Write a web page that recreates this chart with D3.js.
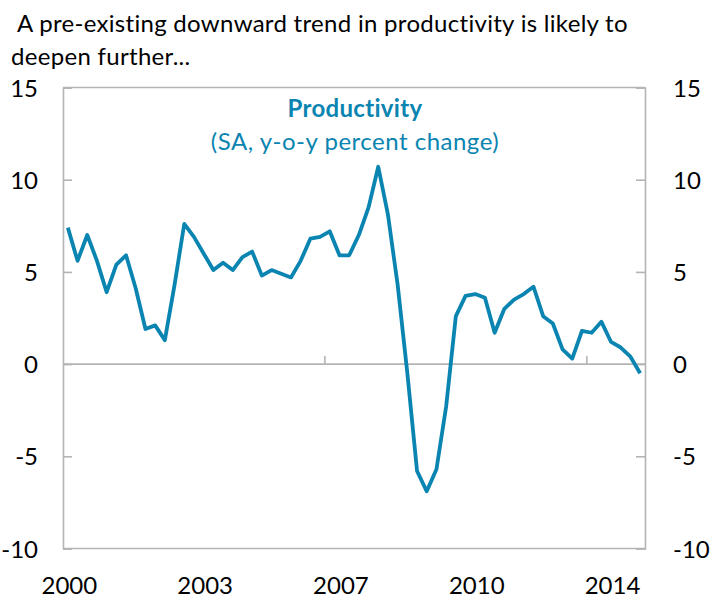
<!DOCTYPE html>
<html>
<head>
<meta charset="utf-8">
<script src="https://cdn.jsdelivr.net/npm/d3@7"></script>
<style>
  body { margin: 0; background: #fff; }
  svg text { font-family: Lato, "Open Sans", sans-serif; }
</style>
</head>
<body>
<svg id="chart" width="726" height="614"></svg>
<script>
// Quarterly categories, 2000Q1 to 2014Q4
const quarters = [
  '2000Q1', '2000Q2', '2000Q3', '2000Q4', '2001Q1', '2001Q2', '2001Q3', '2001Q4',
  '2002Q1', '2002Q2', '2002Q3', '2002Q4', '2003Q1', '2003Q2', '2003Q3', '2003Q4',
  '2004Q1', '2004Q2', '2004Q3', '2004Q4', '2005Q1', '2005Q2', '2005Q3', '2005Q4',
  '2006Q1', '2006Q2', '2006Q3', '2006Q4', '2007Q1', '2007Q2', '2007Q3', '2007Q4',
  '2008Q1', '2008Q2', '2008Q3', '2008Q4', '2009Q1', '2009Q2', '2009Q3', '2009Q4',
  '2010Q1', '2010Q2', '2010Q3', '2010Q4', '2011Q1', '2011Q2', '2011Q3', '2011Q4',
  '2012Q1', '2012Q2', '2012Q3', '2012Q4', '2013Q1', '2013Q2', '2013Q3', '2013Q4',
  '2014Q1', '2014Q2', '2014Q3', '2014Q4',
];

// Productivity, SA, y-o-y percent change
const productivity = [
  7.4, 5.6, 7.0, 5.6, 3.9, 5.4, 5.9, 4.1, 1.9, 2.1, 1.3, 4.3,
  7.6, 6.9, 6.0, 5.1, 5.5, 5.1, 5.8, 6.1, 4.8, 5.1, 4.9, 4.7,
  5.6, 6.8, 6.9, 7.2, 5.9, 5.9, 7.0, 8.5, 10.7, 8.1, 4.3, -0.5,
  -5.8, -6.9, -5.7, -2.3, 2.6, 3.7, 3.8, 3.6, 1.7, 3.0, 3.5, 3.8,
  4.2, 2.6, 2.2, 0.8, 0.3, 1.8, 1.7, 2.3, 1.2, 0.9, 0.4, -0.5,
];

// Axis labels
const xLabelQuarters = ['2000Q1', '2003Q3', '2007Q1', '2010Q3', '2014Q1'];
const xLabelText = ['2000', '2003', '2007', '2010', '2014'];
const xTickAfter = ['2006Q3', '2013Q2'];
const yTicks = [15, 10, 5, 0, -5, -10];

const titleLines = ['A pre-existing downward trend in productivity is likely to', 'deepen further...'];
const seriesTitle = 'Productivity';
const seriesSubtitle = '(SA, y-o-y percent change)';

const blue = '#0a84b0';
const grey = '#b4b4b4';

const plot = { left: 63, right: 645, top: 87.5, bottom: 548.5 };

const svg = d3.select('#chart');

const x = d3.scalePoint()
  .domain(quarters)
  .range([plot.left, plot.right])
  .padding(0.5);

const y = d3.scaleLinear()
  .domain([-10, 15])
  .range([plot.bottom, plot.top]);

// Title, first line indented by a space in the original
svg.append('g')
  .selectAll('text')
  .data(titleLines)
  .join('text')
  .attr('x', (d, i) => (i === 0 ? 17 : 11))
  .attr('y', (d, i) => (i === 0 ? 32 : 65))
  .attr('font-size', 24)
  .attr('letter-spacing', 0.3)
  .attr('fill', '#000')
  .text((d) => d);

// Left and right value axes, ticks pointing inward
const yAxisLeft = d3.axisRight(y).tickValues(yTicks).tickSize(9).tickFormat('');
const yAxisRight = d3.axisLeft(y).tickValues(yTicks).tickSize(9).tickFormat('');

svg.append('g')
  .attr('transform', `translate(${plot.left},0)`)
  .call(yAxisLeft)
  .call((g) => g.selectAll('line, path').attr('stroke', grey).attr('stroke-width', 1.6));

svg.append('g')
  .attr('transform', `translate(${plot.right},0)`)
  .call(yAxisRight)
  .call((g) => g.selectAll('line, path').attr('stroke', grey).attr('stroke-width', 1.6));

// Top and bottom frame
svg.append('line')
  .attr('x1', plot.left).attr('x2', plot.right)
  .attr('y1', y(15)).attr('y2', y(15))
  .attr('stroke', grey).attr('stroke-width', 1.6);
svg.append('line')
  .attr('x1', plot.left).attr('x2', plot.right)
  .attr('y1', y(-10)).attr('y2', y(-10))
  .attr('stroke', grey).attr('stroke-width', 1.6);

// Tick labels on both sides
svg.append('g')
  .selectAll('text')
  .data(yTicks)
  .join('text')
  .attr('x', 38)
  .attr('y', (d) => y(d))
  .attr('dy', '0.38em')
  .attr('text-anchor', 'end')
  .attr('font-size', 24)
  .text((d) => d);

svg.append('g')
  .selectAll('text')
  .data(yTicks)
  .join('text')
  .attr('x', 673)
  .attr('y', (d) => y(d))
  .attr('dy', '0.38em')
  .attr('text-anchor', 'start')
  .attr('font-size', 24)
  .text((d) => d);

// Category axis sits on the zero line
const xAxis = d3.axisBottom(x).tickValues([]).tickSizeOuter(0);
svg.append('g')
  .attr('transform', `translate(0,${y(0)})`)
  .call(xAxis)
  .call((g) => g.select('.domain')
    .attr('d', `M${plot.left},0H${plot.right}`)
    .attr('stroke', grey).attr('stroke-width', 1.6));

// Tick marks between categories, pointing up from the zero line
const step = x.step();
svg.append('g')
  .selectAll('line')
  .data(xTickAfter)
  .join('line')
  .attr('x1', (d) => x(d) + step / 2)
  .attr('x2', (d) => x(d) + step / 2)
  .attr('y1', y(0))
  .attr('y2', y(0) - 8)
  .attr('stroke', grey)
  .attr('stroke-width', 1.6);

// Year labels below the plot
svg.append('g')
  .selectAll('text')
  .data(xLabelQuarters)
  .join('text')
  .attr('x', (d) => x(d) + 1.5)
  .attr('y', 594)
  .attr('text-anchor', 'middle')
  .attr('font-size', 24)
  .text((d, i) => xLabelText[i]);

// Series heading
svg.append('text')
  .attr('x', 355)
  .attr('y', 117)
  .attr('text-anchor', 'middle')
  .attr('font-size', 24)
  .attr('letter-spacing', 0.3)
  .attr('font-weight', 'bold')
  .attr('fill', blue)
  .text(seriesTitle);

svg.append('text')
  .attr('x', 355)
  .attr('y', 150)
  .attr('text-anchor', 'middle')
  .attr('font-size', 24)
  .attr('letter-spacing', 0.5)
  .attr('fill', blue)
  .text(seriesSubtitle);

// The line itself
const line = d3.line()
  .x((d, i) => x(quarters[i]))
  .y((d) => y(d));

svg.append('path')
  .datum(productivity)
  .attr('fill', 'none')
  .attr('stroke', blue)
  .attr('stroke-width', 3.8)
  .attr('stroke-linejoin', 'round')
  .attr('d', line);
</script>
</body>
</html>
